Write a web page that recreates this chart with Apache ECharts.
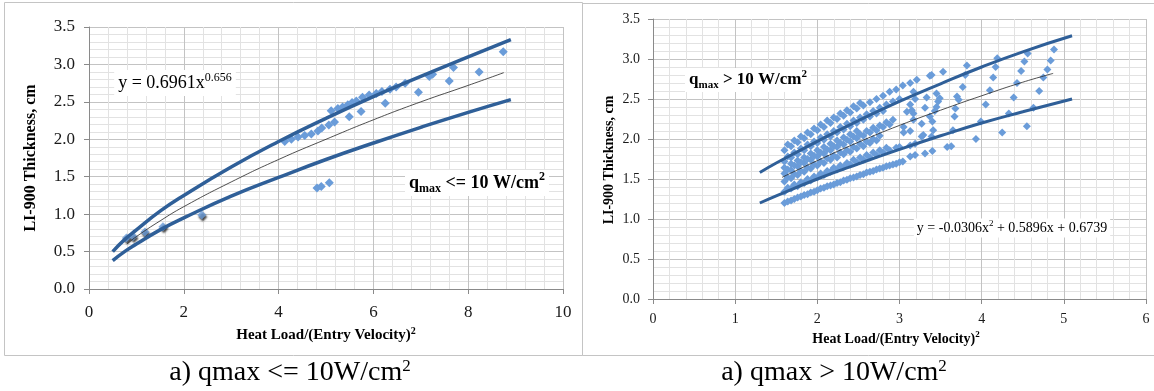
<!DOCTYPE html>
<html>
<head>
<meta charset="utf-8">
<script src="https://cdn.jsdelivr.net/npm/echarts@6/dist/echarts.min.js"></script>
<style>
  html, body { margin: 0; padding: 0; background: #fff; }
  #main { width: 1154px; height: 391px; }
</style>
</head>
<body>
<div id="main"></div>
<script>
// ---- left chart (qmax <= 10 W/cm2) ----
var leftShadowPts = [[0.79, 0.68], [0.93, 0.70], [1.18, 0.76], [1.56, 0.83], [2.38, 0.99]];
var leftPts = [
  [4.13, 1.97], [4.27, 2.00], [4.41, 2.03], [4.55, 2.05], [4.69, 2.07], [4.83, 2.11], [4.91, 2.15],
  [4.81, 1.35], [4.90, 1.37], [5.07, 1.42],
  [5.06, 2.19], [5.18, 2.23], [5.11, 2.38], [5.25, 2.41], [5.49, 2.30], [5.74, 2.37],
  [5.35, 2.43], [5.46, 2.46], [5.55, 2.49], [5.64, 2.51], [5.77, 2.56], [5.91, 2.59],
  [6.06, 2.61], [6.18, 2.64], [6.25, 2.48], [6.35, 2.67], [6.48, 2.70], [6.67, 2.75],
  [6.95, 2.63], [7.18, 2.84], [7.25, 2.87], [7.60, 2.78], [7.69, 2.96], [8.23, 2.90], [8.74, 3.17]
];
var leftUpper = [[0.5, 0.50], [0.75, 0.66], [1, 0.79], [1.5, 1.04], [2, 1.25], [3, 1.63], [4, 1.97],
  [5, 2.28], [6, 2.57], [7, 2.84], [8, 3.10], [8.9, 3.33]];
var leftLower = [[0.5, 0.38], [0.75, 0.50], [1, 0.60], [1.5, 0.79], [2, 0.95], [3, 1.24], [4, 1.49],
  [5, 1.73], [6, 1.95], [7, 2.16], [8, 2.36], [8.9, 2.53]];
var leftFit = [[0.8, 0.60], [1, 0.70], [1.5, 0.91], [2, 1.10], [3, 1.43], [4, 1.73], [5, 2.00],
  [6, 2.26], [7, 2.50], [8, 2.72], [8.75, 2.89]];

// ---- right chart (qmax > 10 W/cm2) ----
// streaks of points read along the dense part of the cloud
var bandX = [1.60, 1.68, 1.76, 1.84, 1.92, 2.00, 2.08, 2.16, 2.24, 2.32, 2.40, 2.48, 2.56, 2.64, 2.72, 2.80, 2.88, 2.96, 3.04];
var band120 = [1.20, 1.23, 1.27, 1.30, 1.33, 1.36, 1.39, 1.42, 1.45, 1.48, 1.51, 1.53, 1.56, 1.59, 1.62, 1.64, 1.67, 1.69, 1.72];
var band134 = [1.34, 1.38, 1.41, 1.45, 1.48, 1.52, 1.55, 1.59, 1.62, 1.65, 1.68, 1.71, 1.74, 1.77, 1.80, 1.83, 1.86, 1.89];
var band147 = [1.47, 1.51, 1.55, 1.59, 1.63, 1.67, 1.70, 1.74, 1.77, 1.81, 1.84, 1.88, 1.91, 1.95, 1.98];
var band157 = [1.57, 1.61, 1.66, 1.70, 1.74, 1.78, 1.82, 1.86, 1.90, 1.93, 1.97, 2.01, 2.04, 2.08, 2.11, 2.15, 2.18];
var band164 = [1.64, 1.69, 1.73, 1.77, 1.82, 1.86, 1.90, 1.94, 1.98, 2.02, 2.06, 2.10];
var band172 = [1.72, 1.77, 1.81, 1.86, 1.91, 1.95, 1.99, 2.03, 2.08, 2.12, 2.16, 2.20, 2.24, 2.28, 2.32, 2.35];
var band186 = [1.86, 1.91, 1.96, 2.01, 2.06, 2.11, 2.15, 2.20, 2.25, 2.29, 2.33, 2.38, 2.42, 2.46, 2.50, 2.54, 2.59, 2.62, 2.67];
// second set of streaks, offset along x
var bandX2 = [1.64, 1.72, 1.80, 1.88, 1.96, 2.04, 2.12, 2.20, 2.28, 2.36, 2.44, 2.52, 2.60, 2.68, 2.76, 2.84, 2.92, 3.00];
var band122 = [1.22, 1.25, 1.28, 1.31, 1.34, 1.38, 1.41, 1.43, 1.46, 1.49, 1.52, 1.55, 1.58, 1.60, 1.63, 1.66, 1.68, 1.71];
var band137 = [1.39, 1.43, 1.46, 1.50, 1.53, 1.57, 1.60, 1.64, 1.67, 1.70, 1.74, 1.77, 1.80, 1.83, 1.86, 1.89];
var band150 = [1.52, 1.56, 1.60, 1.64, 1.68, 1.72, 1.76, 1.79, 1.83, 1.86, 1.90, 1.94, 1.97, 2.00, 2.04];
var band160 = [1.62, 1.67, 1.71, 1.75, 1.79, 1.83, 1.87, 1.91, 1.95, 1.99, 2.03, 2.06, 2.10, 2.14, 2.17, 2.21, 2.24];
var band176 = [1.78, 1.83, 1.88, 1.93, 1.97, 2.02, 2.06, 2.10, 2.15, 2.19, 2.23, 2.27, 2.31, 2.35, 2.39, 2.43, 2.47, 2.50];
var band190 = [1.93, 1.98, 2.03, 2.08, 2.13, 2.18, 2.23, 2.27, 2.32, 2.36, 2.41, 2.45];
var rightLoose = [
  [3.13, 2.70], [3.21, 2.74], [3.37, 2.79], [3.39, 2.80], [3.53, 2.84], [3.82, 2.92],
  [3.17, 2.59], [3.33, 2.52], [3.19, 2.50], [3.13, 2.43], [3.31, 2.39], [3.09, 2.34], [3.17, 2.32],
  [3.45, 2.57], [3.47, 2.47], [3.43, 2.35], [3.49, 2.51], [3.45, 2.40], [3.40, 2.22],
  [3.27, 2.19], [3.37, 2.28], [3.17, 2.24], [3.05, 2.15], [3.15, 2.36],
  [3.05, 2.08], [3.13, 2.10], [3.27, 2.03], [3.39, 2.03], [3.41, 2.11], [3.29, 2.05],
  [3.13, 1.92], [3.19, 1.94], [3.00, 1.90],
  [3.13, 1.78], [3.19, 1.80], [3.31, 1.82], [3.40, 1.85], [3.58, 1.90], [3.63, 1.91],
  [3.65, 2.11], [3.67, 2.28], [3.68, 2.38], [3.70, 2.53], [3.72, 2.49], [3.77, 2.65], [3.80, 2.80],
  [3.93, 2.00], [3.99, 2.22], [4.05, 2.43], [4.10, 2.61], [4.14, 2.77], [4.17, 2.90], [4.19, 3.01],
  [4.25, 2.08], [4.33, 2.32], [4.39, 2.52], [4.43, 2.70], [4.48, 2.85], [4.52, 2.97], [4.56, 3.07],
  [4.55, 2.16], [4.63, 2.39], [4.70, 2.60], [4.75, 2.77], [4.80, 2.87], [4.84, 2.98], [4.88, 3.12]
];
var rightUpper = [[1.3, 1.58], [1.5, 1.70], [2, 1.97], [2.5, 2.23], [3, 2.47], [3.5, 2.69], [4, 2.90], [4.5, 3.09], [5.1, 3.29]];
var rightLower = [[1.3, 1.20], [1.5, 1.29], [2, 1.50], [2.5, 1.69], [3, 1.87], [3.5, 2.04], [4, 2.20], [4.5, 2.34], [5.1, 2.50]];
var rightFit = [[1.57, 1.52], [2, 1.73], [2.5, 1.96], [3, 2.17], [3.5, 2.36], [4, 2.54], [4.5, 2.71], [4.87, 2.82]];

var rightPts = [];
[band120, band134, band147, band157, band164, band172, band186].forEach(function (ys) {
  ys.forEach(function (y, i) { rightPts.push([bandX[i], y]); });
});
[band122, band137, band150, band160, band176, band190].forEach(function (ys) {
  ys.forEach(function (y, i) { rightPts.push([bandX2[i], y]); });
});
rightPts = rightPts.concat(rightLoose);

var SERIF = 'Liberation Serif';
var LINE_BLUE = '#2f5f98';
var DOT_BLUE = '#6a9cd9';

function valAxis(grid, min, max, interval, size, margin, digits) {
  return {
    type: 'value', gridIndex: grid, min: min, max: max, interval: interval,
    axisLine: { show: true, onZero: false, lineStyle: { color: '#8a8a8a', width: 1 } },
    axisTick: { show: true, length: 5, lineStyle: { color: '#8a8a8a' } },
    minorTick: { show: false, splitNumber: 5 },
    splitLine: { show: true, lineStyle: { color: '#c3c3c3', width: 1 } },
    minorSplitLine: { show: true, lineStyle: { color: '#e2e2e2', width: 1 } },
    axisLabel: {
      color: '#1a1a1a', fontFamily: SERIF, fontSize: size, margin: margin,
      formatter: function (v) { return v.toFixed(digits); }
    }
  };
}

function lineSeries(xi, data, color, width) {
  return {
    type: 'line', xAxisIndex: xi, yAxisIndex: xi, data: data, smooth: true,
    showSymbol: false, silent: true, z: 5,
    lineStyle: { color: color, width: width }
  };
}

// text element helper; rich holds the styles for {t|..}, {s|..} (sup), {b|..} (sub)
function label(text, x, y, rich, extra) {
  var el = {
    type: 'text', x: x, y: y, z: 20, silent: true,
    style: { text: text, fill: '#000', align: 'center', verticalAlign: 'middle', rich: rich }
  };
  for (var k in extra) {
    if (k === 'style') { for (var s in extra.style) el.style[s] = extra.style[s]; }
    else el[k] = extra[k];
  }
  return el;
}

function f(size, bold) { return (bold ? 'bold ' : '') + size + 'px ' + SERIF; }

var chart = echarts.init(document.getElementById('main'));

chart.setOption({
  animation: false,
  backgroundColor: '#fff',
  grid: [
    { left: 89, top: 27, width: 474, height: 262 },
    { left: 653, top: 19, width: 493, height: 280 }
  ],
  xAxis: [
    valAxis(0, 0, 10, 2, 17, 15, 0),
    valAxis(1, 0, 6, 1, 14, 13, 0)
  ],
  yAxis: [
    valAxis(0, 0, 3.5, 0.5, 17, 14, 1),
    valAxis(1, 0, 3.5, 0.5, 14, 13, 1)
  ],
  series: [
    {
      type: 'scatter', xAxisIndex: 0, yAxisIndex: 0, data: leftPts, symbol: 'diamond', symbolSize: 9,
      itemStyle: { color: DOT_BLUE, opacity: 1 }, z: 3
    },
    {
      type: 'scatter', xAxisIndex: 0, yAxisIndex: 0, data: leftShadowPts, symbol: 'diamond', symbolSize: 9,
      itemStyle: { color: DOT_BLUE, shadowColor: 'rgba(0,0,0,0.9)', shadowBlur: 2, shadowOffsetX: 1, shadowOffsetY: 2 }, z: 3
    },
    lineSeries(0, leftUpper, LINE_BLUE, 3.5),
    lineSeries(0, leftLower, LINE_BLUE, 3.5),
    lineSeries(0, leftFit, '#222', 0.8),
    {
      type: 'scatter', xAxisIndex: 1, yAxisIndex: 1, data: rightPts, symbol: 'diamond', symbolSize: 8,
      itemStyle: { color: DOT_BLUE, opacity: 1 }, z: 3
    },
    lineSeries(1, rightUpper, LINE_BLUE, 3),
    lineSeries(1, rightLower, LINE_BLUE, 3),
    lineSeries(1, rightFit, '#222', 0.8)
  ],
  graphic: [
    { type: 'rect', shape: { x: 4.5, y: 2.5, width: 578, height: 353 }, style: { fill: 'none', stroke: '#c4c4c4', lineWidth: 1 }, silent: true },
    { type: 'rect', shape: { x: 582.5, y: 3.5, width: 580, height: 352 }, style: { fill: 'none', stroke: '#c4c4c4', lineWidth: 1 }, silent: true },

    // axis titles
    label('{t|LI-900 Thickness, cm}', 31, 158, { t: { font: f(16, true) } }, { rotation: Math.PI / 2 }),
    label('{t|Heat Load/(Entry Velocity)}{s|2}', 326, 335,
      { t: { font: f(15, true), lineHeight: 18 }, s: { font: f(10, true), verticalAlign: 'top' } }),
    label('{t|LI-900 Thickness, cm}', 609, 160, { t: { font: f(14, true) } }, { rotation: Math.PI / 2 }),
    label('{t|Heat Load/(Entry Velocity)}{s|2}', 896, 339,
      { t: { font: f(14, true), lineHeight: 17 }, s: { font: f(9, true), verticalAlign: 'top' } }),

    // fit equations and regime labels
    label('{t|y = 0.6961x}{s|0.656}', 175, 83,
      { t: { font: f(18), lineHeight: 22 }, s: { font: f(12), verticalAlign: 'top' } },
      { style: { backgroundColor: '#fff', padding: [2, 4, 2, 4] } }),
    label('{t|q}{b|max}{t| <= 10 W/cm}{s|2}', 477, 183,
      { t: { font: f(18, true), lineHeight: 24 }, b: { font: f(12, true), verticalAlign: 'bottom' }, s: { font: f(12, true), verticalAlign: 'top' } },
      { style: { backgroundColor: '#fff', padding: [1, 4, 1, 4] } }),
    label('{t|q}{b|max}{t| > 10 W/cm}{s|2}', 748, 80,
      { t: { font: f(17, true), lineHeight: 22 }, b: { font: f(11, true), verticalAlign: 'bottom' }, s: { font: f(11, true), verticalAlign: 'top' } },
      { style: { backgroundColor: '#fff', padding: [1, 4, 1, 4] } }),
    label('{t|y = -0.0306x}{s|2}{t| + 0.5896x + 0.6739}', 1012, 228,
      { t: { font: f(14), lineHeight: 17 }, s: { font: f(9), verticalAlign: 'top' } },
      { style: { backgroundColor: '#fff', padding: [1, 3, 1, 3] } }),

    // captions
    label('{t|a) qmax <= 10W/cm}{s|2}', 290, 373,
      { t: { font: f(28), lineHeight: 30 }, s: { font: f(17), verticalAlign: 'top' } }),
    label('{t|a) qmax > 10W/cm}{s|2}', 834, 373,
      { t: { font: f(28), lineHeight: 30 }, s: { font: f(17), verticalAlign: 'top' } })
  ]
});
</script>
</body>
</html>
